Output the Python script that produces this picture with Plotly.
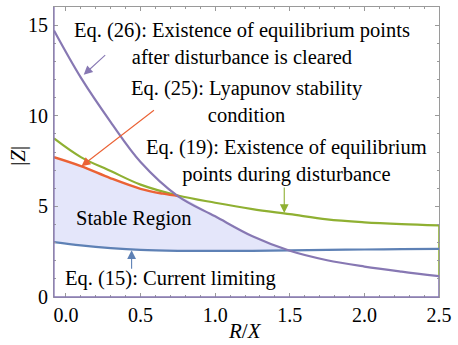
import plotly.graph_objects as go

# ---- data ----
rx = [-0.08, 0.1, 0.3, 0.5, 0.75, 1.0, 1.25, 1.5, 1.75, 2.0, 2.25, 2.5]
eq26_purple = [14.7, 12.1, 9.65, 7.45, 5.57, 4.45, 3.35, 2.55, 2.03, 1.68, 1.4, 1.15]
eq19_green = [8.75, 7.72, 6.95, 6.2, 5.6, 5.2, 4.85, 4.57, 4.28, 4.12, 4.02, 3.95]
eq15_blue = [3.03, 2.85, 2.7, 2.6, 2.55, 2.54, 2.55, 2.57, 2.6, 2.62, 2.64, 2.66]

orange_x = [-0.08, 0.1, 0.3, 0.5, 0.65, 0.76]
eq25_orange = [7.71, 7.22, 6.55, 5.97, 5.7, 5.56]

# stable region boundaries
region_top_x = [-0.08, 0.1, 0.3, 0.5, 0.65, 0.76, 1.0, 1.25, 1.49]
region_top_y = [7.71, 7.22, 6.55, 5.97, 5.7, 5.56, 4.45, 3.35, 2.57]
region_bot_x = [-0.08, 0.1, 0.3, 0.5, 0.75, 1.0, 1.25, 1.49]
region_bot_y = [3.03, 2.85, 2.7, 2.6, 2.55, 2.54, 2.55, 2.57]

x_ticks = [0.0, 0.5, 1.0, 1.5, 2.0, 2.5]
y_ticks = [0, 5, 10, 15]
x_range = [-0.08, 2.5]
y_range = [0, 16]

BLUE = "#5E81B5"
GREEN = "#8FB032"
ORANGE = "#EB6235"
PURPLE = "#8778B3"
FILL = "#E4E6FA"
FRAME = "#9a9a9a"
FONT = "Liberation Serif"

fig = go.Figure()

# fill (stable region)
fig.add_trace(go.Scatter(x=region_bot_x, y=region_bot_y, mode="lines",
                         line=dict(width=0, shape="spline", color=FILL),
                         showlegend=False, hoverinfo="skip"))
fig.add_trace(go.Scatter(x=region_top_x, y=region_top_y, mode="lines",
                         line=dict(width=0, shape="spline", color=FILL),
                         fill="tonexty", fillcolor=FILL,
                         showlegend=False, hoverinfo="skip"))

# right-edge boundary segments
fig.add_trace(go.Scatter(x=[x_range[1], x_range[1]], y=[eq19_green[-1], eq26_purple[-1]],
                         mode="lines", line=dict(color=GREEN, width=1.6),
                         showlegend=False, hoverinfo="skip"))
fig.add_trace(go.Scatter(x=[x_range[1], x_range[1]], y=[eq26_purple[-1], y_range[0]],
                         mode="lines", line=dict(color=PURPLE, width=1.6),
                         showlegend=False, hoverinfo="skip"))

# curves
fig.add_trace(go.Scatter(x=rx, y=eq15_blue, mode="lines",
                         line=dict(color=BLUE, width=2.2, shape="spline"), showlegend=False))
fig.add_trace(go.Scatter(x=rx, y=eq19_green, mode="lines",
                         line=dict(color=GREEN, width=2.2, shape="spline"), showlegend=False))
fig.add_trace(go.Scatter(x=orange_x, y=eq25_orange, mode="lines",
                         line=dict(color=ORANGE, width=2.4, shape="spline"), showlegend=False))
fig.add_trace(go.Scatter(x=rx, y=eq26_purple, mode="lines",
                         line=dict(color=PURPLE, width=2.2, shape="spline"), showlegend=False))

fs = 20.5
anns = []
def txt(x, y, s):
    anns.append(dict(x=x, y=y, xref="x", yref="y", text=s, showarrow=False,
                     xanchor="center", yanchor="middle", align="center",
                     font=dict(family=FONT, size=fs, color="black")))

txt(1.18, 13.96, "Eq. (26): Existence of equilibrium points<br>after disturbance is cleared")
txt(1.21, 10.78, "Eq. (25): Lyapunov stability<br>condition")
txt(1.48, 7.48, "Eq. (19): Existence of equilibrium<br>points during disturbance")
txt(0.454, 4.34, "Stable Region")
txt(0.703, 1.04, "Eq. (15): Current limiting")

def arrow(x, y, ax, ay, color):
    anns.append(dict(x=x, y=y, xref="x", yref="y", ax=ax, ay=ay, text="",
                     showarrow=True, arrowhead=2, arrowsize=1.6, arrowwidth=1.1,
                     arrowcolor=color, standoff=0))

arrow(0.119, 12.26, 23, -21, PURPLE)
arrow(0.104, 7.22, 74, -57, ORANGE)
arrow(1.463, 4.63, 0, -27, GREEN)
arrow(0.44, 2.58, 0, 20, BLUE)

# axis titles
anns.append(dict(x=-0.0925, y=0.488, xref="paper", yref="paper", text="|<i>Z</i>|",
                 showarrow=False, textangle=-90, xanchor="center", yanchor="middle",
                 font=dict(family=FONT, size=21, color="black")))
anns.append(dict(x=0.496, y=-0.117, xref="paper", yref="paper", text="<i>R</i>/<i>X</i>",
                 showarrow=False, xanchor="center", yanchor="middle",
                 font=dict(family=FONT, size=21, color="black")))

fig.update_layout(
    width=458, height=345,
    margin=dict(l=54, r=15, t=6, b=48),
    paper_bgcolor="white", plot_bgcolor="white",
    annotations=anns,
    shapes=[
        dict(type="line", xref="paper", yref="paper", x0=0, x1=0, y0=0, y1=1,
             line=dict(color=PURPLE, width=1.3), layer="above"),
        dict(type="line", xref="paper", yref="paper", x0=0, x1=1, y0=0, y1=0,
             line=dict(color=PURPLE, width=1.3), layer="above"),
    ],
)
fig.update_xaxes(range=x_range, tickvals=x_ticks, tickformat=".1f",
                 showgrid=False, zeroline=False, showline=True, linecolor=FRAME,
                 linewidth=1, mirror="allticks", ticks="inside", ticklen=4,
                 tickcolor=FRAME, ticklabelstandoff=0,
                 tickfont=dict(family=FONT, size=20, color="black"),
                 minor=dict(dtick=0.1, ticks="inside", ticklen=2, tickcolor=FRAME, showgrid=False))
fig.update_yaxes(range=y_range, tickvals=y_ticks,
                 showgrid=False, zeroline=False, showline=True, linecolor=FRAME,
                 linewidth=1, mirror="allticks", ticks="inside", ticklen=4,
                 tickcolor=FRAME, ticklabelstandoff=1,
                 tickfont=dict(family=FONT, size=20, color="black"),
                 minor=dict(dtick=1, ticks="inside", ticklen=2, tickcolor=FRAME, showgrid=False))

fig.write_html("out.html")
